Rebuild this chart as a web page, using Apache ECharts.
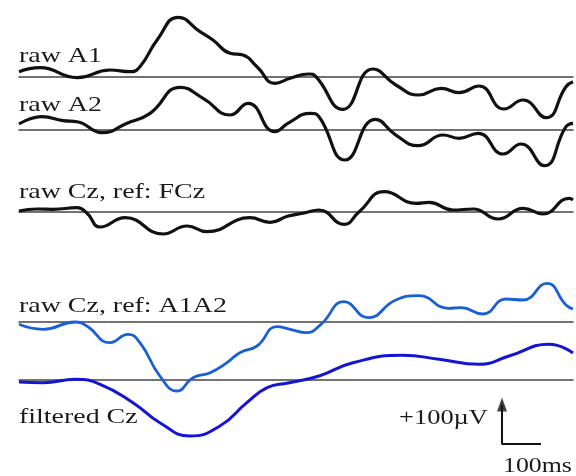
<!DOCTYPE html>
<html>
<head>
<meta charset="utf-8">
<script src="https://cdn.jsdelivr.net/npm/echarts@6/dist/echarts.min.js"></script>
<style>html,body{margin:0;padding:0;background:#fff}#c{width:576px;height:476px}</style>
</head>
<body>
<div id="c"></div>
<script>
// time in ms, amplitude in µV (positive = up)
var traceNames = ['raw A1', 'raw A2', 'raw Cz, ref: FCz', 'raw Cz, ref: A1A2', 'filtered Cz'];

var rawA1 = [[0,11.5],[54,20.2],[149,-1.5],[233,15.2],[285,11.5],[310,22.4],[354,80.4],[408,129.8],[464,98.5],[497,80.4],[541,51.5],[574,47.8],[610,22.4],[656,-13.7],[695,-2.8],[743,6.5],[761,0.7],[830,-70.2],[907,17.4],[966,-17.4],[1025,-39.1],[1082,-24.6],[1128,-34.1],[1179,-19.6],[1243,-69.6],[1292,-50],[1351,-88.5],[1402,-21.1],[1420,-10.2]];

var rawA2 = [[0,13],[59,28.9],[113,20.2],[149,18],[213,-5.9],[277,14.6],[336,36.3],[413,92.8],[472,68.9],[541,32.6],[587,58],[656,-3.7],[690,15],[748,36.3],[769,28.9],[836,-65.2],[913,23.3],[966,-10.9],[1023,-34.1],[1087,-10.9],[1128,-18],[1177,-7.2],[1241,-52.2],[1287,-30.4],[1346,-77.6],[1402,7.2],[1420,14.6]];

var rawCzFCz = [[0,2.2],[46,6.5],[87,5.9],[149,9.3],[174,-2.2],[208,-32.6],[272,-12.4],[369,-47.8],[431,-30.4],[482,-42.8],[592,-12.4],[643,-22.4],[690,-8.7],[728,-2.8],[769,4.3],[833,-26.7],[872,0.7],[936,44.1],[1018,18.9],[1051,21.1],[1112,4.3],[1164,6.5],[1228,-15.2],[1292,8],[1343,-4.3],[1410,29.8],[1420,26.1]];

var rawCzA1A2 = [[0,-5],[62,-15.9],[144,0],[174,-8.7],[233,-45],[279,-26.7],[310,-45],[361,-117.4],[405,-150],[446,-121.1],[490,-110.2],[533,-88.5],[566,-66.7],[610,-52.2],[661,-10.2],[695,-15.9],[736,-23.3],[774,-5],[833,44.1],[895,9.3],[966,47.8],[1025,57.2],[1100,29.8],[1133,31.1],[1189,17.4],[1248,50],[1292,47.8],[1353,84.1],[1402,37],[1420,28.3]];

var filteredCz = [[0,-4.3],[62,-5.9],[144,1.5],[208,-9.3],[292,-49.3],[361,-92.8],[438,-121.7],[515,-100],[584,-49.3],[636,-16.7],[690,-6.5],[769,8.7],[856,37.6],[984,53.7],[1077,45],[1179,34.1],[1256,52.2],[1359,77.6],[1420,58.7]];

// scale bar: 100 µV vertical, 100 ms horizontal
var scaleBarTimeMs = 100;
var scaleBarMicroV = 100;
var scaleBarOrigin = [1238, -139];
var scaleBarLabels = ['+100\u00B5V', '100ms'];

var traces = [rawA1, rawA2, rawCzFCz, rawCzA1A2, filteredCz];
var colors = ['#111111', '#111111', '#111111', '#1a5fd4', '#1414d6'];

// layout
var baselinesPx = [77, 130, 212, 322, 380];
var half = 74, uvPerPx = 100 / 46;
var gridLeft = 19, gridWidth = 554;

var grids = [], xAxes = [], yAxes = [], series = [];
baselinesPx.forEach(function (b, i) {
  grids.push({ left: gridLeft, width: gridWidth, top: b - half, height: 2 * half, outerBoundsMode: 'none', containLabel: false });
  xAxes.push({
    type: 'value', gridIndex: i, min: 0, max: 1420,
    axisLine: { show: true, onZero: true, lineStyle: { color: '#454545', width: 1.5 } },
    axisTick: { show: false }, axisLabel: { show: false }, splitLine: { show: false }
  });
  yAxes.push({
    type: 'value', gridIndex: i, min: -half * uvPerPx, max: half * uvPerPx,
    axisLine: { show: false }, axisTick: { show: false }, axisLabel: { show: false }, splitLine: { show: false }
  });
  series.push({
    type: 'line', name: traceNames[i], xAxisIndex: i, yAxisIndex: i, data: traces[i],
    smooth: 0.5, showSymbol: false, clip: false,
    lineStyle: { color: colors[i], width: i === 4 ? 3 : (i === 3 ? 2.8 : 3.2) }, z: 3
  });
});

// scale bar in filtered grid
var ox = scaleBarOrigin[0], oy = scaleBarOrigin[1];
series.push({
  type: 'line', xAxisIndex: 4, yAxisIndex: 4, clip: false, showSymbol: false, smooth: false,
  data: [[ox + scaleBarTimeMs, oy], [ox, oy], [ox, oy + scaleBarMicroV - 14]],
  lineStyle: { color: '#111', width: 2 }, z: 4
});
series.push({
  type: 'scatter', xAxisIndex: 4, yAxisIndex: 4, clip: false,
  data: [[ox, oy + scaleBarMicroV - 14]], symbol: 'triangle', symbolSize: [10, 14],
  itemStyle: { color: '#111' }, z: 4
});

var labelFont = '21px "Liberation Serif", "Times New Roman", serif';
function label(text, x, baseline, sx) {
  return {
    type: 'text', x: x, y: baseline + 5, scaleX: sx, scaleY: 1,
    style: { text: text, font: labelFont, fill: '#1a1a1a', verticalAlign: 'bottom', align: 'left' }
  };
}

var labelBaselines = [62, 111, 198, 312, 423];
var graphics = traceNames.map(function (t, i) { return label(t, 19, labelBaselines[i], 1.33); });
graphics.push(label(scaleBarLabels[0], 399, 424, 1.26));
graphics.push(label(scaleBarLabels[1], 503, 472, 1.23));

var chart = echarts.init(document.getElementById('c'), null, { renderer: 'canvas' });
chart.setOption({
  animation: false,
  backgroundColor: '#ffffff',
  grid: grids, xAxis: xAxes, yAxis: yAxes, series: series,
  graphic: graphics
});
</script>
</body>
</html>
